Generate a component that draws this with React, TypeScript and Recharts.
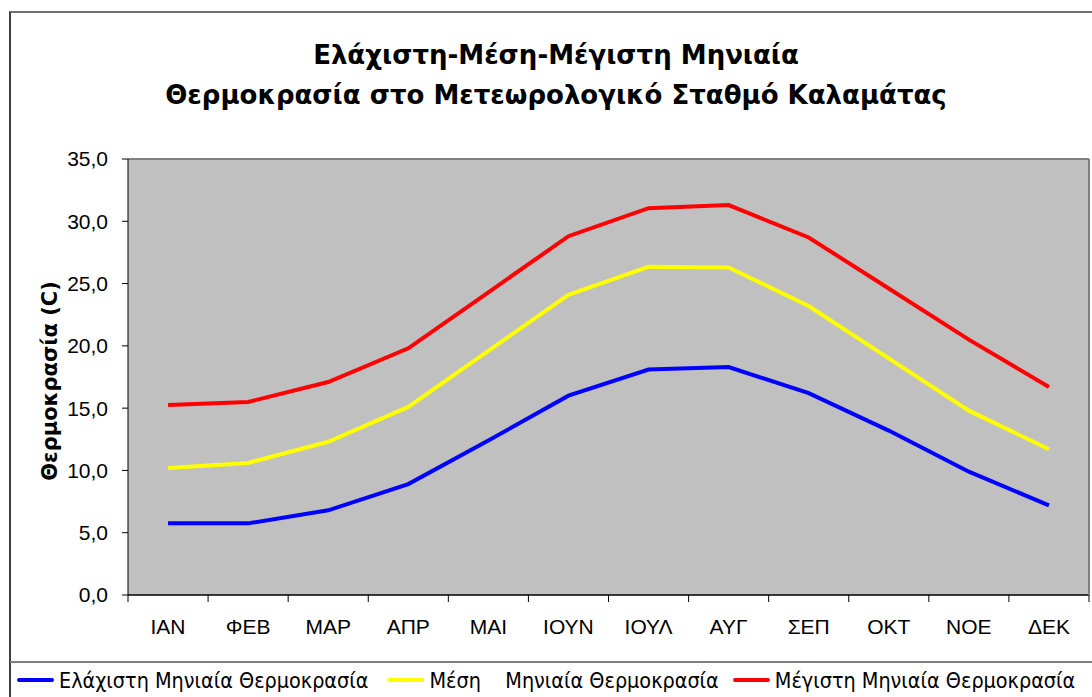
import React from 'react';
import { LineChart, Line, XAxis, YAxis, CartesianGrid, Legend, ReferenceLine } from 'recharts';

const months = ['ΙΑΝ', 'ΦΕΒ', 'ΜΑΡ', 'ΑΠΡ', 'ΜΑΙ', 'ΙΟΥΝ', 'ΙΟΥΛ', 'ΑΥΓ', 'ΣΕΠ', 'ΟΚΤ', 'ΝΟΕ', 'ΔΕΚ'];
const minTemp = [5.75, 5.75, 6.8, 8.9, 12.4, 16.0, 18.1, 18.3, 16.2, 13.2, 9.9, 7.2];
const meanTemp = [10.2, 10.6, 12.3, 15.1, 19.6, 24.1, 26.35, 26.3, 23.2, 19.0, 14.8, 11.7];
const maxTemp = [15.25, 15.5, 17.1, 19.8, 24.3, 28.8, 31.05, 31.3, 28.7, 24.6, 20.5, 16.7];
const yTicks = [0, 5, 10, 15, 20, 25, 30, 35];

const seriesOrder = ['min', 'mean', 'max'];
const seriesNames: Record<string, string> = {
  min: 'Ελάχιστη Μηνιαία Θερμοκρασία',
  mean: 'Μέση    Μηνιαία Θερμοκρασία',
  max: 'Μέγιστη Μηνιαία Θερμοκρασία',
};
const legendGaps = [19, 14, 0];

const data = months.map((m, i) => ({ month: m, min: minTemp[i], mean: meanTemp[i], max: maxTemp[i] }));

const XTick = (props: any) => {
  const { x, y, payload, index } = props;
  const off = payload.offset || 0;
  const axisY = y - 24;
  return (
    <g>
      <line x1={x - off} y1={axisY} x2={x - off} y2={axisY + 7} stroke="#000" strokeWidth={1} />
      {index === months.length - 1 ? (
        <line x1={x + off} y1={axisY} x2={x + off} y2={axisY + 7} stroke="#000" strokeWidth={1} />
      ) : null}
      <text x={x} y={y} dy="0.71em" textAnchor="middle" fontFamily="'Liberation Sans', Arial, sans-serif" fontSize={21} fill="#000">
        {payload.value}
      </text>
    </g>
  );
};

const YLabel = (props: any) => {
  const vb = props.viewBox || {};
  const cx = 50;
  const cy = vb.y + vb.height / 2 + 4;
  return (
    <text
      x={cx}
      y={cy}
      transform={`rotate(-90, ${cx}, ${cy})`}
      textAnchor="middle"
      dominantBaseline="central"
      fontFamily="'DejaVu Sans', Verdana, sans-serif"
      fontWeight="bold"
      fontSize={21}
      fill="#000"
    >
      Θερμοκρασία (C)
    </text>
  );
};

const LegendContent = (props: any) => {
  const payload = [...(props.payload || [])].sort(
    (a: any, b: any) => seriesOrder.indexOf(a.dataKey) - seriesOrder.indexOf(b.dataKey)
  );
  return (
    <div
      style={{
        borderTop: '2px solid #808080',
        height: 36,
        display: 'flex',
        alignItems: 'center',
        paddingLeft: 7,
        boxSizing: 'border-box',
      }}
    >
      {payload.map((p: any, i: number) => (
        <div key={i} style={{ display: 'flex', alignItems: 'center', marginRight: legendGaps[i] }}>
          <div style={{ width: 37, height: 4, background: p.color, borderRadius: 2, marginRight: 5 }} />
          <span
            style={{
              whiteSpace: 'pre',
              fontFamily: "'DejaVu Sans Condensed', 'DejaVu Sans', Tahoma, sans-serif",
              fontSize: 21.4,
              color: '#000',
            }}
          >
            {p.value}
          </span>
        </div>
      ))}
    </div>
  );
};

export default function App() {
  return (
    <div style={{ position: 'absolute', left: 0, top: 0, width: 1092, height: 697, background: '#fff', overflow: 'hidden' }}>
      <div
        style={{
          position: 'absolute',
          left: 9,
          top: 11,
          width: 1092,
          height: 697,
          borderLeft: '2px solid #404040',
          borderTop: '2px solid #707070',
        }}
      />
      <div
        style={{
          position: 'absolute',
          left: 20,
          width: 1072,
          top: 35,
          textAlign: 'center',
          fontFamily: "'DejaVu Sans', Verdana, sans-serif",
          fontWeight: 'bold',
          fontSize: 26,
          lineHeight: '40px',
          color: '#000',
        }}
      >
        <div>Ελάχιστη-Μέση-Μέγιστη Μηνιαία</div>
        <div>Θερμοκρασία στο Μετεωρολογικό Σταθμό Καλαμάτας</div>
      </div>
      <div style={{ position: 'absolute', left: 0, top: 0 }}>
        <LineChart width={1092} height={697} data={data} margin={{ top: 159, right: 0, bottom: 42, left: 0 }}>
          <CartesianGrid vertical={false} stroke="#000" fill="#C0C0C0" fillOpacity={1} />
          <XAxis
            dataKey="month"
            scale="band"
            tickLine={false}
            tickSize={6}
            tickMargin={18}
            height={60}
            axisLine={{ stroke: '#000', strokeWidth: 1 }}
            tick={<XTick />}
            interval={0}
          />
          <YAxis
            yAxisId="left"
            width={128}
            domain={[0, 35]}
            ticks={yTicks}
            interval={0}
            tickFormatter={(v: number) => v.toFixed(1).replace('.', ',')}
            tickSize={6}
            tickMargin={14}
            tickLine={{ stroke: '#000' }}
            axisLine={{ stroke: '#000' }}
            tick={{ fill: '#000', fontSize: 21, fontFamily: "'Liberation Sans', Arial, sans-serif" }}
            label={<YLabel />}
          />
          <YAxis
            yAxisId="right"
            orientation="right"
            width={3}
            domain={[0, 35]}
            tick={false}
            tickLine={false}
            axisLine={{ stroke: '#808080', strokeWidth: 2 }}
          />
          <ReferenceLine yAxisId="left" y={35} stroke="#808080" strokeWidth={2} />
          <Line yAxisId="left" type="linear" dataKey="min" name={seriesNames.min} stroke="#0000FF" strokeWidth={4} dot={false} isAnimationActive={false} />
          <Line yAxisId="left" type="linear" dataKey="mean" name={seriesNames.mean} stroke="#FFFF00" strokeWidth={4} dot={false} isAnimationActive={false} />
          <Line yAxisId="left" type="linear" dataKey="max" name={seriesNames.max} stroke="#FF0000" strokeWidth={4} dot={false} isAnimationActive={false} />
          <Legend
            layout="horizontal"
            verticalAlign="middle"
            align="center"
            itemSorter={null as any}
            content={<LegendContent />}
            wrapperStyle={{ left: 10, top: 661, width: 1082, height: 36 }}
          />
        </LineChart>
      </div>
    </div>
  );
}
